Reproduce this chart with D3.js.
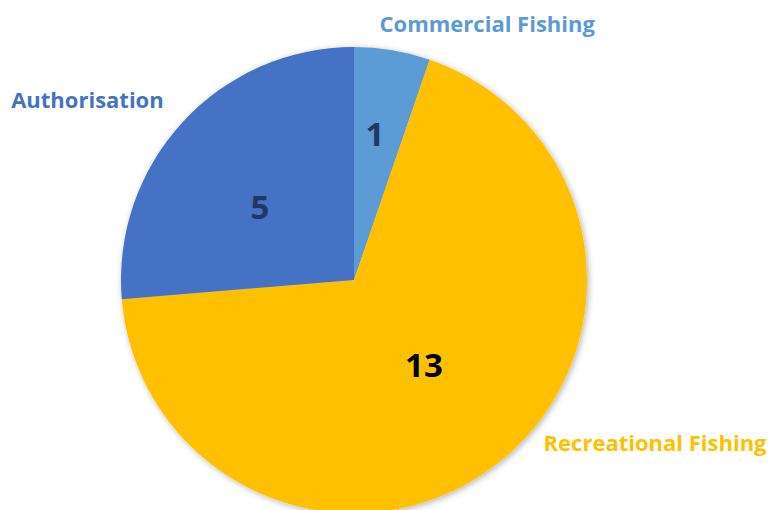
<!DOCTYPE html>
<html>
<head>
<meta charset="utf-8">
<script src="https://cdn.jsdelivr.net/npm/d3@7"></script>
<style>
  html, body { margin: 0; padding: 0; background: #fff; }
  svg { display: block; }
</style>
</head>
<body>
<svg id="chart" width="771" height="510"></svg>
<script>
// ---- data ----
const categories = ["Commercial Fishing", "Recreational Fishing", "Authorisation"];
const values = [1, 13, 5];
const colors = ["#5B9BD5", "#FFC000", "#4472C4"];
const valueColors = ["#203864", "#000000", "#203864"];

// ---- layout (polar: angle in degrees from top clockwise, distance in radius units) ----
const valueLabelPos = [[8.2, 0.633], [140.5, 0.472], [307.8, 0.511]];
const catLabelPos = [[27.5, 1.238], [118.4, 1.469], [304.0, 1.380]];

const W = 771, H = 510;
const cx = 354, cy = 280, R = 233;

const svg = d3.select("#chart");
const defs = svg.append("defs");
const f = defs.append("filter").attr("id", "shadow")
  .attr("x", "-10%").attr("y", "-10%").attr("width", "120%").attr("height", "120%");
f.append("feDropShadow").attr("dx", 1.5).attr("dy", 1.5).attr("stdDeviation", 3)
  .attr("flood-color", "#000").attr("flood-opacity", 0.3);

const pie = d3.pie().sort(null).value(d => d)(values);
const arc = d3.arc().innerRadius(0).outerRadius(R);

const g = svg.append("g").attr("transform", `translate(${cx},${cy})`);
g.append("g").attr("filter", "url(#shadow)")
  .selectAll("path").data(pie).join("path")
  .attr("d", arc)
  .attr("fill", (d, i) => colors[i]);

function polar(a, r) {
  const t = a * Math.PI / 180;
  return [Math.sin(t) * r * R, -Math.cos(t) * r * R];
}

g.selectAll("text.val").data(pie).join("text")
  .attr("class", "val")
  .attr("transform", (d, i) => { const p = polar(...valueLabelPos[i]); return `translate(${p[0]},${p[1]})`; })
  .attr("text-anchor", "middle")
  .attr("dy", "0.36em")
  .attr("font-family", "'Open Sans', sans-serif")
  .attr("font-weight", 700)
  .attr("font-size", 33)
  .attr("fill", (d, i) => valueColors[i])
  .text(d => d.data);

g.selectAll("text.cat").data(categories).join("text")
  .attr("class", "cat")
  .attr("transform", (d, i) => { const p = polar(...catLabelPos[i]); return `translate(${p[0]},${p[1]})`; })
  .attr("text-anchor", "middle")
  .attr("dy", "0.36em")
  .attr("font-family", "'Open Sans', sans-serif")
  .attr("font-weight", 700)
  .attr("font-size", 22)
  .attr("fill", (d, i) => colors[i])
  .text(d => d);
</script>
</body>
</html>
